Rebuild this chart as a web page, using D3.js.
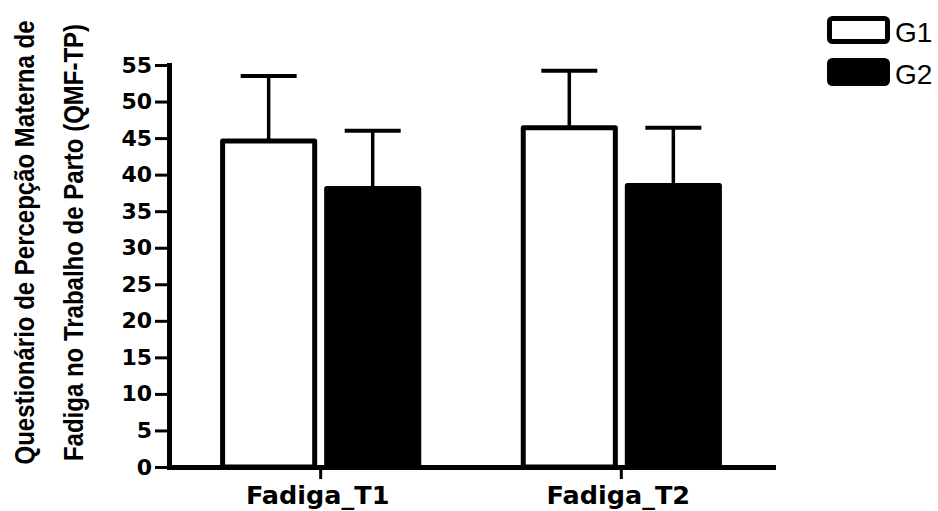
<!DOCTYPE html>
<html>
<head>
<meta charset="utf-8">
<script src="https://cdn.jsdelivr.net/npm/d3@7"></script>
<style>
  body { margin: 0; background: #fff; }
  svg { display: block; }
</style>
</head>
<body>
<svg id="chart"></svg>
<script>
// data
const categories = ['Fadiga_T1', 'Fadiga_T2'];
const groups = ['G1', 'G2'];
const g1Means = [44.6, 46.4];
const g1Sd = [8.9, 7.8];
const g2Means = [38.1, 38.5];
const g2Sd = [7.9, 7.9];
const yTicks = [0, 5, 10, 15, 20, 25, 30, 35, 40, 45, 50, 55];
const titleLines = ['Questionário de Percepção Materna de', 'Fadiga no Trabalho de Parto (QMF-TP)'];
const groupFills = ['#ffffff', '#000000'];

const width = 938;
const height = 511;

const svg = d3.select('#chart')
  .attr('width', width)
  .attr('height', height);

const y = d3.scaleLinear()
  .domain([0, 55])
  .range([467, 65]);

const x0 = d3.scaleBand()
  .domain(categories)
  .range([169, 773])
  .paddingInner(0.331)
  .paddingOuter(0.17);

const x1 = d3.scaleBand()
  .domain(groups)
  .range([0, x0.bandwidth()])
  .paddingInner(0.067);

const rows = [];
categories.forEach((c, i) => {
  rows.push({ cat: c, group: 'G1', mean: g1Means[i], sd: g1Sd[i], fill: groupFills[0] });
  rows.push({ cat: c, group: 'G2', mean: g2Means[i], sd: g2Sd[i], fill: groupFills[1] });
});

const sw = 5;

// error bars (upper only), drawn first so bar outline covers the join
const err = svg.append('g').attr('class', 'errors');
err.selectAll('.err-stem')
  .data(rows)
  .enter()
  .append('line')
  .attr('class', 'err-stem')
  .attr('x1', d => x0(d.cat) + x1(d.group) + x1.bandwidth() / 2)
  .attr('x2', d => x0(d.cat) + x1(d.group) + x1.bandwidth() / 2)
  .attr('y1', d => y(d.mean))
  .attr('y2', d => y(d.mean + d.sd))
  .attr('stroke', '#000')
  .attr('stroke-width', 3.5);

err.selectAll('.err-cap')
  .data(rows)
  .enter()
  .append('line')
  .attr('class', 'err-cap')
  .attr('x1', d => x0(d.cat) + x1(d.group) + x1.bandwidth() / 2 - 28)
  .attr('x2', d => x0(d.cat) + x1(d.group) + x1.bandwidth() / 2 + 28)
  .attr('y1', d => y(d.mean + d.sd))
  .attr('y2', d => y(d.mean + d.sd))
  .attr('stroke', '#000')
  .attr('stroke-width', 4);

svg.selectAll('.bar')
  .data(rows)
  .enter()
  .append('rect')
  .attr('class', 'bar')
  .attr('x', d => x0(d.cat) + x1(d.group) + sw / 2)
  .attr('width', x1.bandwidth() - sw)
  .attr('y', d => y(d.mean))
  .attr('height', d => y(0) - y(d.mean))
  .attr('fill', d => d.fill)
  .attr('stroke', '#000')
  .attr('stroke-width', sw)
  .attr('stroke-linejoin', 'round');

// y axis
const yAxis = d3.axisLeft(y)
  .tickValues(yTicks)
  .tickSize(14)
  .tickSizeOuter(0)
  .tickPadding(3);

const yG = svg.append('g')
  .attr('transform', 'translate(169,0)')
  .call(yAxis);

yG.select('.domain')
  .attr('stroke-width', 5)
  .attr('stroke-linecap', 'square');
yG.selectAll('.tick line').attr('stroke-width', 3);
yG.selectAll('.tick text')
  .attr('x', -17)
  .attr('fill', '#000')
  .style('font-family', '"DejaVu Sans", sans-serif')
  .style('font-weight', 'bold')
  .style('font-size', '22px');

// x axis
const xAxis = d3.axisBottom(x0)
  .tickSize(12)
  .tickSizeOuter(0);

const xG = svg.append('g')
  .attr('transform', `translate(0,${y(0)})`)
  .call(xAxis);

xG.select('.domain')
  .attr('stroke-width', 5)
  .attr('stroke-linecap', 'square');
xG.selectAll('.tick line').attr('stroke-width', 3);
xG.selectAll('.tick text')
  .attr('y', 37)
  .attr('dy', 0)
  .attr('x', -3)
  .attr('fill', '#000')
  .style('font-family', '"DejaVu Sans", sans-serif')
  .style('font-weight', 'bold')
  .style('font-size', '25.5px');

// axis title, two rotated lines
const titleX = [34, 83];
svg.selectAll('.ytitle')
  .data(titleLines)
  .enter()
  .append('text')
  .attr('class', 'ytitle')
  .attr('transform', (d, i) => `translate(${titleX[i]},242.5) rotate(-90) scale(1,1.12)`)
  .attr('text-anchor', 'middle')
  .style('font-family', '"Liberation Sans", Arial, sans-serif')
  .style('font-weight', 'bold')
  .style('font-size', '24px')
  .text(d => d);

// legend
const legend = svg.append('g')
  .attr('transform', 'translate(829.5,18.5)');

legend.selectAll('rect')
  .data(groups)
  .enter()
  .append('rect')
  .attr('x', 0)
  .attr('y', (d, i) => i * 42)
  .attr('width', 58)
  .attr('height', 23)
  .attr('rx', 3)
  .attr('fill', (d, i) => groupFills[i])
  .attr('stroke', '#000')
  .attr('stroke-width', 5);

legend.selectAll('text')
  .data(groups)
  .enter()
  .append('text')
  .attr('x', 65.5)
  .attr('y', (d, i) => i * 42 + 23.5)
  .style('font-family', '"Liberation Sans", Arial, sans-serif')
  .style('font-size', '28px')
  .text(d => d);
</script>
</body>
</html>
